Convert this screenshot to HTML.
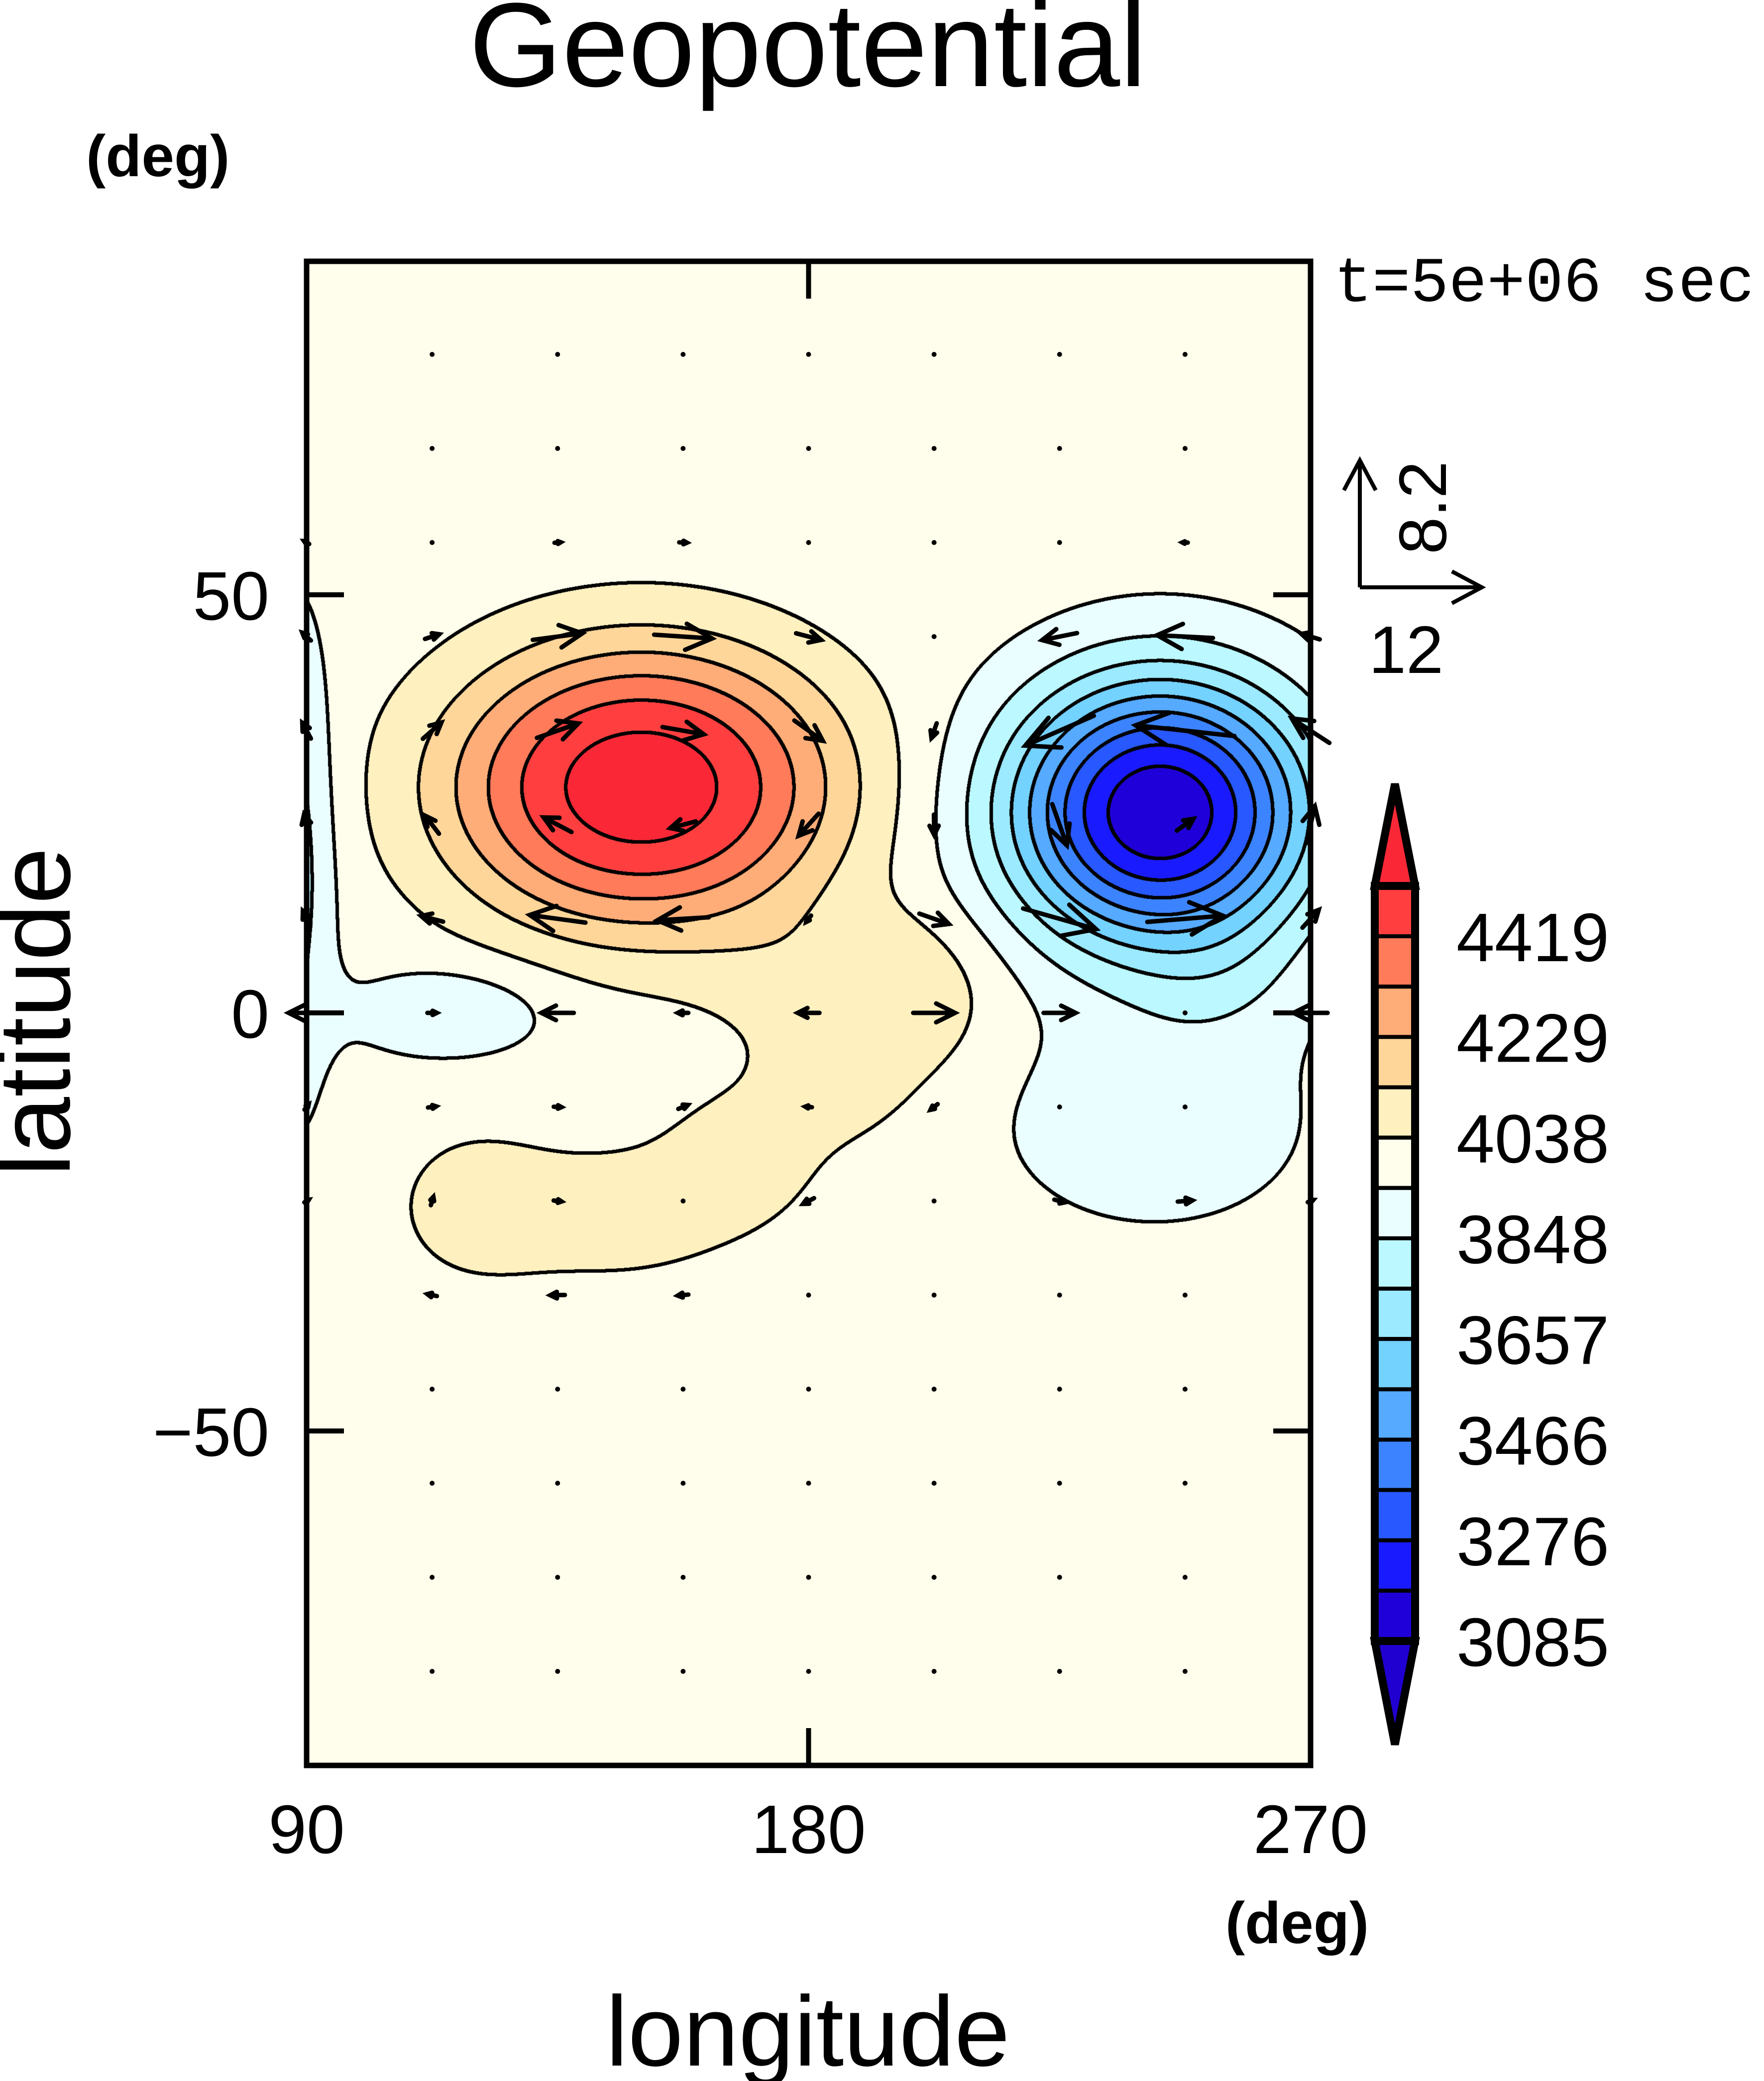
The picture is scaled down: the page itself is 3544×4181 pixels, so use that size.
<!DOCTYPE html>
<html><head><meta charset="utf-8"><style>
html,body{margin:0;padding:0;background:#fff;}
#wrap{position:relative;width:3544px;height:4181px;overflow:hidden;background:#fff;}
#cv{position:absolute;left:616px;top:525px;}
svg{position:absolute;left:0;top:0;}
text{font-family:"Liberation Sans",sans-serif;fill:#000;}
</style></head><body>
<div id="wrap">
<canvas id="cv" width="2017" height="3022"></canvas>
<svg id="sv" width="3544" height="4181">
<text x="1623" y="173" font-size="240" text-anchor="middle">Geopotential</text>
<text x="173" y="354" font-size="118" font-weight="bold">(deg)</text>
<text x="2680" y="605" font-size="128" style="font-family:'Liberation Mono',monospace">t=5e+06 sec</text>
<text x="1623" y="4150" font-size="200" text-anchor="middle">longitude</text>
<text x="0" y="0" font-size="205" text-anchor="middle" transform="translate(140,2033) rotate(-90)">latitude</text>
<text x="2606" y="3904" font-size="118" font-weight="bold" text-anchor="middle">(deg)</text>
<g id="ticks"></g>
<g id="arrows"></g>
<rect x="616" y="525" width="2017" height="3022" fill="none" stroke="#000" stroke-width="11"/>
<g id="refvec">
<line x1="2732" y1="1180" x2="2732" y2="925" stroke="#000" stroke-width="8"/>
<polyline points="2700,985 2732,925 2764,985" fill="none" stroke="#000" stroke-width="8"/>
<line x1="2732" y1="1180" x2="2977" y2="1180" stroke="#000" stroke-width="8"/>
<polyline points="2917,1148 2977,1180 2917,1212" fill="none" stroke="#000" stroke-width="8"/>
<text x="0" y="0" font-size="135" text-anchor="middle" transform="translate(2905,1020) rotate(-90)">8.2</text>
<text x="2825" y="1352" font-size="135" text-anchor="middle">12</text>
</g>
<g id="cbar"></g>
</svg>
</div>
<script>
// ---- data ----
const levels=[4514,4419,4324,4229,4133,4038,3943,3848,3752,3657,3562,3466,3371,3276,3181,3085];
const colors=["#fa2837","#ff3f3f","#ff7b5a","#ffad78","#fed69a","#fff0c0","#fffdeb","#eafeff","#bcf8ff","#9ceaff","#74d2ff","#56aaff","#3c84ff","#2858ff","#1a1aff","#2000d8","#2000d0"];
const cbarLabels=["4419","4229","4038","3848","3657","3466","3276","3085"];
const baseValue=3990;
const blobLon=[150,243,200,185,168,145,120,182,88,115,242,255];
const blobLat=[27,24,2,-8,-17,-24,-23,4,18,0,-13,3];
const blobAmp=[575,-890,90,85,85,95,80,85,-180,-130,-110,-60];
const blobSx=[35,27,14,14,14,22,14,20,7,18,28,16];
const blobSy=[17,16,10,8,8,8,9,8,28,5.5,13,8];
const blobPow=[1.25,1.1,1,1,1,1,1,1,1,1,1,1];
const xTicks=[90,180,270];
const yTicks=[50,0,-50];
const yTickLabels=["50","0","\u221250"];
// ---- axes ----
const X0=616,X1=2633,Y0=525,Y1=3547;
function xs(lon){return X0+(lon-90)/180*(X1-X0);}
function ys(lat){return 2035-lat*16.8;}
function field(lon,lat){let v=baseValue;for(let i=0;i<blobLon.length;i++){const dx=(lon-blobLon[i])/blobSx[i],dy=(lat-blobLat[i])/blobSy[i];const r2=dx*dx+dy*dy;v+=blobAmp[i]*Math.exp(-Math.pow(r2,blobPow[i]));}return v;}
function lvl(v){let k=0;while(k<levels.length&&v<levels[k])k++;return k;}
const NS='http://www.w3.org/2000/svg';
// ---- raster ----
const cv=document.getElementById('cv'),ctx=cv.getContext('2d');
const W=cv.width,H=cv.height,img=ctx.createImageData(W,H),d=img.data;
const rgb=colors.map(c=>[parseInt(c.substr(1,2),16),parseInt(c.substr(3,2),16),parseInt(c.substr(5,2),16)]);
const L=new Uint8Array(W*H);
for(let py=0;py<H;py++){const lat=(2035-(py+Y0))/16.8;for(let px=0;px<W;px++){const lon=90+px/(X1-X0)*180;L[py*W+px]=lvl(field(lon,lat));}}
for(let i=0;i<W*H;i++){const c=rgb[L[i]];d[4*i]=c[0];d[4*i+1]=c[1];d[4*i+2]=c[2];d[4*i+3]=255;}
for(let py=0;py<H-1;py++)for(let px=0;px<W-1;px++){const i=py*W+px;if(L[i]!==L[i+1]||L[i]!==L[i+W]){for(let a=-3;a<=3;a++)for(let b=-3;b<=3;b++){if(a*a+b*b>10)continue;const yy=py+a,xx=px+b;if(yy<0||yy>=H||xx<0||xx>=W)continue;const j=4*(yy*W+xx);d[j]=0;d[j+1]=0;d[j+2]=0;}}}
ctx.putImageData(img,0,0);
// ---- ticks ----
const tg=document.getElementById('ticks');
function mk(tag,attrs,parent){const e=document.createElementNS(NS,tag);for(const k in attrs)e.setAttribute(k,attrs[k]);parent.appendChild(e);return e;}
yTicks.forEach((t,i)=>{const y=ys(t);
 const l1=mk('line',{x1:X0,y1:y,x2:X0+75,y2:y,stroke:'#000','stroke-width':10},tg);
 const l2=mk('line',{x1:X1-75,y1:y,x2:X1,y2:y,stroke:'#000','stroke-width':10},tg);
 const tx=mk('text',{x:541,y:y+50,'font-size':138,'text-anchor':'end'},tg);tx.textContent=yTickLabels[i];});
xTicks.forEach(t=>{const x=xs(t);
 if(t>90&&t<270){const a=mk('line',{x1:x,y1:Y1,x2:x,y2:Y1-75,stroke:'#000','stroke-width':10},tg);
 const b=mk('line',{x1:x,y1:Y0,x2:x,y2:Y0+75,stroke:'#000','stroke-width':10},tg);}
 const tx=mk('text',{x:x,y:3723,'font-size':138,'text-anchor':'middle'},tg);tx.textContent=String(t);});
// ---- arrows ----
const ag=document.getElementById('arrows');
const arrowLons=[90,112.5,135,157.5,180,202.5,225,247.5,270];
const arrowLats=[78.75,67.5,56.25,45,33.75,22.5,11.25,0,-11.25,-22.5,-33.75,-45,-56.25,-67.5,-78.75];
arrowLons.forEach(lon=>arrowLats.forEach(lat=>{
 const e=0.5;const dPdx=(field(lon+e,lat)-field(lon-e,lat))/(2*e),dPdy=(field(lon,lat+e)-field(lon,lat-e))/(2*e);
 const eq=Math.exp(-(lat/8)*(lat/8));
 let u=-dPdy*4.2*(1-eq)-dPdx*12*eq,v=dPdx*2.8*(1-eq);
 const s=Math.hypot(u,v);const cap=(lon===90||lon===270)?90:280;if(s>cap){u*=cap/s;v*=cap/s;}
 const x0=xs(lon),y0=ys(lat);const len=Math.hypot(u,v);
 const g=mk('g',{},ag);
 if(len<10){mk('circle',{cx:x0,cy:y0,r:5,fill:'#000'},g);return;}
 const x1=x0+u/2,y1=y0-v/2,xa=x0-u/2,ya=y0+v/2;
 mk('line',{x1:xa,y1:ya,x2:x1,y2:y1,stroke:'#000','stroke-width':9,'stroke-linecap':'round'},g);
 const ux=(x1-xa)/len,uy=(y1-ya)/len,h=Math.min(65,len*0.45);
 const p=[[x1-ux*h-uy*h*0.5,y1-uy*h+ux*h*0.5],[x1,y1],[x1-ux*h+uy*h*0.5,y1-uy*h-ux*h*0.5]];
 mk('polyline',{points:p.map(q=>q.join(',')).join(' '),fill:'none',stroke:'#000','stroke-width':9,'stroke-linecap':'round'},g);
}));
// ---- colorbar ----
const cb=document.getElementById('cbar');
const CX0=2762,CX1=2843,CT=1780,CB=3297,bh=(CB-CT)/15;
mk('polygon',{points:`${CX0},${CT} ${(CX0+CX1)/2},1575 ${CX1},${CT}`,fill:colors[0],stroke:'#000','stroke-width':16},cb);
mk('polygon',{points:`${CX0},${CB} ${(CX0+CX1)/2},3505 ${CX1},${CB}`,fill:colors[16],stroke:'#000','stroke-width':16},cb);
for(let k=0;k<15;k++){const r=mk('rect',{x:CX0,y:CT+k*bh,width:CX1-CX0,height:bh,fill:colors[k+1],stroke:'#000','stroke-width':8},cb);}
mk('rect',{x:CX0,y:CT,width:CX1-CX0,height:CB-CT,fill:'none',stroke:'#000','stroke-width':16},cb);
cbarLabels.forEach((t,i)=>{const tx=mk('text',{x:2926,y:CT+(2*i+1)*bh+50,'font-size':138},cb);tx.textContent=t;});
</script>
</body></html>
